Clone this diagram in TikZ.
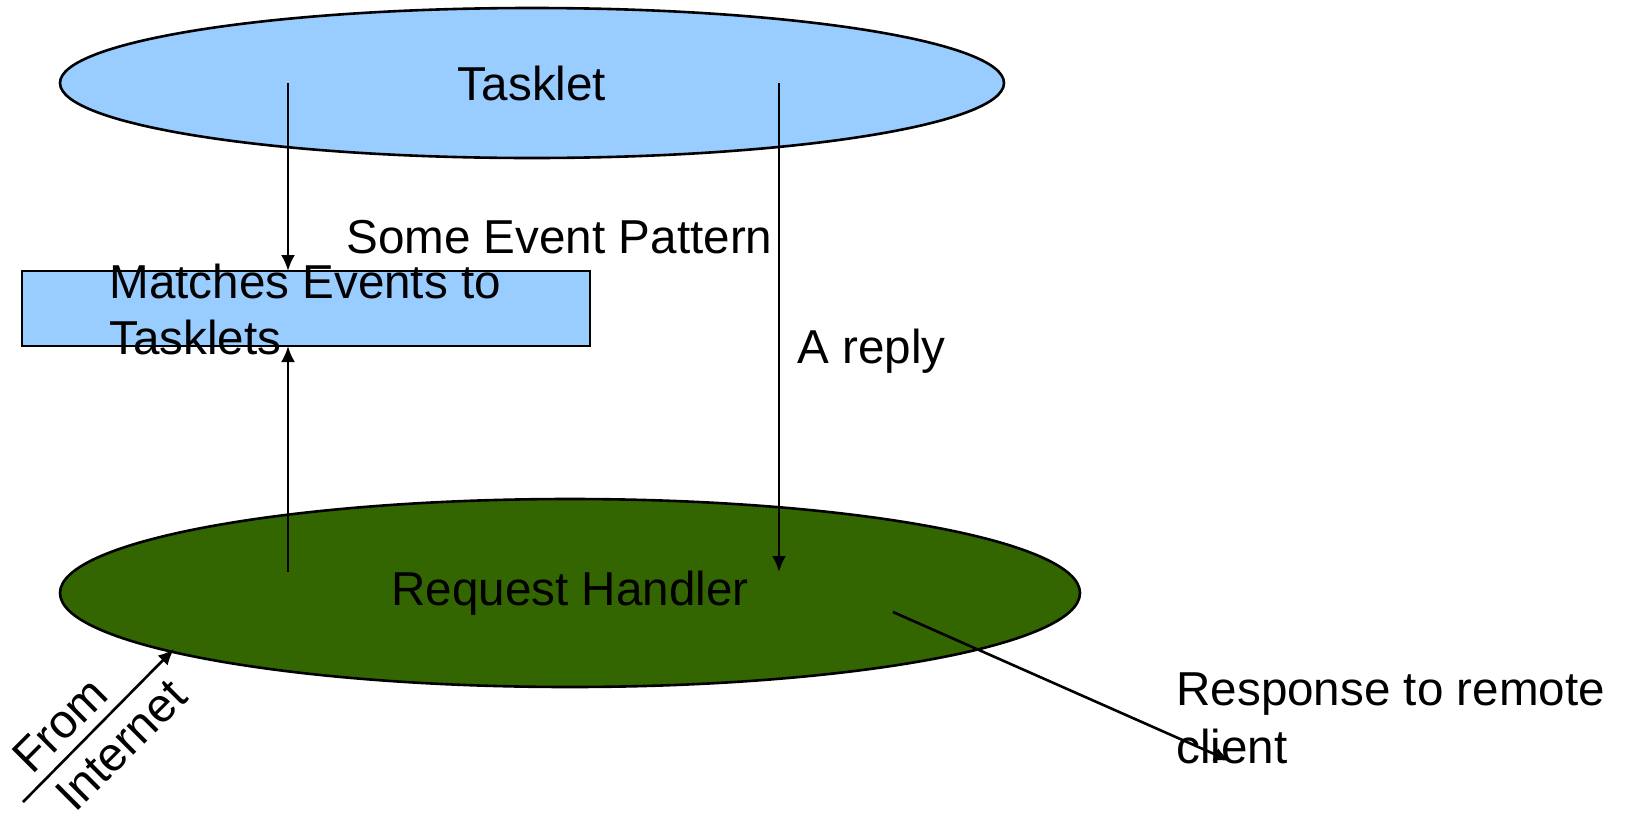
\documentclass[tikz,border=0pt]{standalone}
\usepackage{fontspec}
\setmainfont{Liberation Sans}
\usetikzlibrary{arrows.meta,shapes.geometric}
\definecolor{skyfill}{HTML}{99CCFF}
\definecolor{leaf}{HTML}{336600}
\tikzset{
  label text/.style={font=\fontsize{23.8}{27.5}\selectfont, inner sep=0pt},
  blob/.style={ellipse, draw=black, line width=1.3pt, inner sep=0pt},
  flow/.style={line width=1.3pt, -{Latex[length=8pt,width=7pt]}},
}
\begin{document}
\begin{tikzpicture}[x=0.5pt,y=-0.5pt]
\useasboundingbox (0,0) rectangle (1628,814);

% the two processes
\node[blob, fill=skyfill, minimum width=472pt, minimum height=75pt, label text]
  (tasklet) at (532,83) {Tasklet};
\node[blob, fill=leaf, minimum width=510pt, minimum height=94pt, label text]
  (handler) at (570,593) {Request Handler};

% matcher box with its overflowing caption
\node[draw=black, line width=1.3pt, fill=skyfill, minimum width=284pt, minimum height=37.5pt, inner sep=0pt]
  (matcher) at (306,308.5) {};
\node[label text, anchor=west, align=left] (matchtext) at (109,309.5)
  {Matches Events to\\[0.5pt]Tasklets};

% free labels
\node[label text, anchor=west] (pattern) at (346,237) {Some Event Pattern};
\node[label text, anchor=west] (reply) at (797,351) {A reply};
\node[label text, anchor=west, align=left, font=\fontsize{23.8}{29}\selectfont] (response) at (1176,718)
  {Response to remote\\client};
\node[label text, rotate=45] (from) at (60,725) {From};
\node[label text, rotate=45] (internet) at (121,745) {Internet};

% connector end points
\coordinate (tA) at (288,83);
\coordinate (tB) at (779,83);
\coordinate (mTop) at (288,271);
\coordinate (mBot) at (288,346);
\coordinate (hA) at (288,572);
\coordinate (hB) at (779,572);
\coordinate (hC) at (893,612);
\coordinate (out) at (1230,761);
\coordinate (net) at (23,802);
\coordinate (hIn) at (174,649);

\draw[flow] (tA) -- (mTop);
\draw[flow] (hA) -- (mBot);
\draw[flow] (tB) -- (hB);
\draw[flow] (hC) -- (out);
\draw[flow] (net) -- (hIn);
\end{tikzpicture}
\end{document}
